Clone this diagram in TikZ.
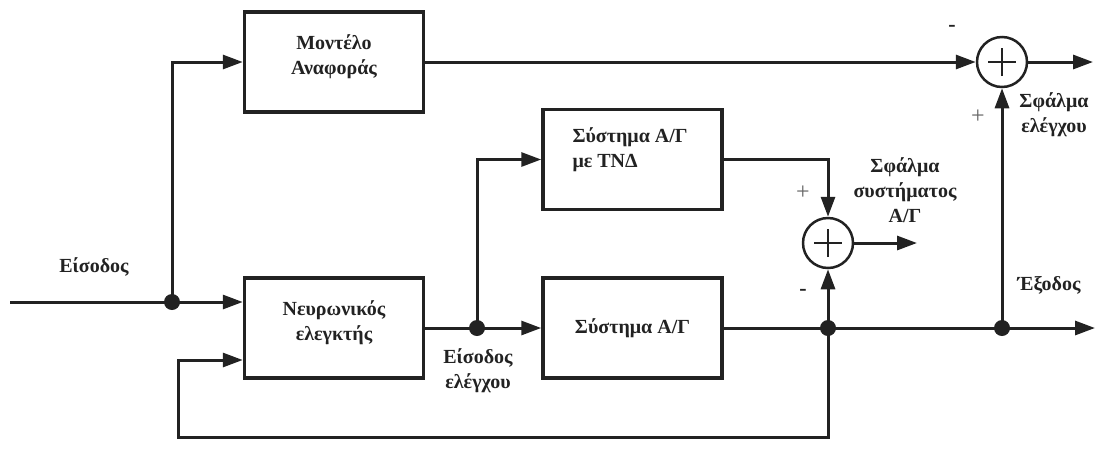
\documentclass[tikz,border=0pt]{standalone}
\usepackage{fontspec}
\setmainfont{Liberation Serif}
\usetikzlibrary{arrows.meta}
\definecolor{ink}{HTML}{222222}
\begin{document}
\begin{tikzpicture}[x=1pt,y=-1pt,
  color=ink,
  line width=3pt,
  blk/.style={draw=ink, line width=3.5pt, minimum width=179pt, minimum height=100pt, inner sep=0pt},
  sumnode/.style={draw=ink, circle, line width=2.5pt, minimum size=50pt, inner sep=0pt,
    path picture={\draw[ink, line width=2.2pt]
      ([xshift=-14pt]path picture bounding box.center) -- ([xshift=14pt]path picture bounding box.center)
      ([yshift=-14pt]path picture bounding box.center) -- ([yshift=14pt]path picture bounding box.center);}},
  dot/.style={circle, fill=ink, draw=none, inner sep=0pt, minimum size=16pt},
  lbl/.style={text=ink, font=\fontsize{20}{25}\selectfont\bfseries, align=center, inner sep=0pt},
  plussign/.style={text=ink!70, font=\fontsize{24}{24}\selectfont, inner sep=0pt},
  minussign/.style={text=ink, font=\fontsize{22}{22}\selectfont\bfseries, inner sep=0pt},
  arr/.style={-{Triangle[length=20pt,width=14pt]}}
]
\useasboundingbox (0,0) rectangle (1102,459);

% blocks
\node[blk] (ref) at (334,62) {};
\node[blk] (nc)  at (334,328) {};
\node[blk] (tnd) at (632.5,159.5) {};
\node[blk] (sys) at (632.5,328) {};

% block texts
\node[lbl] (refT) at (334,57) {Μοντέλο\\Αναφοράς};
\node[lbl] (ncT)  at (334,323) {Νευρωνικός\\ελεγκτής};
\node[lbl, align=left, anchor=west] (tndT) at (571,149.5) {Σύστημα Α/Γ\\με ΤΝΔ};
\node[lbl] (sysT) at (632.5,328) {Σύστημα Α/Γ};

% summing junctions
\node[sumnode] (s1) at (1002,62) {};
\node[sumnode] (s2) at (828,243) {};

% branch points
\node[dot] (j1) at (172,302) {};
\node[dot] (j2) at (477,328) {};
\node[dot] (j3) at (828,328) {};
\node[dot] (j4) at (1002,328) {};

% free ends
\coordinate (in)   at (10,302);
\coordinate (out)  at (1095,328);
\coordinate (eout) at (1093,62);
\coordinate (sout) at (917,243);
\coordinate (fbR)  at (828,437);
\coordinate (fbL)  at (178,437);

% signal paths
\draw (in) -- (j1.center);
\draw[arr] (j1.center) -- ([yshift=26pt]nc.west);
\draw[arr] (j1.center) |- (ref.west);
\draw[arr] (ref.east) -- (s1.west);
\draw[arr] (s1.east) -- (eout);

\draw (nc.east) -- (j2.center);
\draw[arr] (j2.center) -- (sys.west);
\draw[arr] (j2.center) |- (tnd.west);
\draw[arr] (tnd.east) -| (s2.north);

\draw (sys.east) -- (j3.center) -- (j4.center);
\draw[arr] (j4.center) -- (out);
\draw[arr] (j3.center) -- (s2.south);
\draw[arr] (j4.center) -- (s1.south);
\draw[arr] (s2.east) -- (sout);

% feedback loop
\draw[arr] (j3.center) -- (fbR) -- (fbL) |- ([yshift=-32pt]nc.west);

% signal labels
\node[lbl] (lin)  at (94,267) {Είσοδος};
\node[lbl] (lcin) at (478,371) {Είσοδος\\ελέγχου};
\node[lbl] (lse)  at (905,190) {Σφάλμα\\συστήματος\\Α/Γ};
\node[lbl] (lce)  at (1054,115) {Σφάλμα\\ελέγχου};
\node[lbl] (lout) at (1049,285) {Έξοδος};

% signs
\node[plussign]  (p2) at (803,193) {+};
\node[minussign] (m2) at (803,292) {-};
\node[minussign] (m1) at (952,28) {-};
\node[plussign]  (p1) at (978,117) {+};
\end{tikzpicture}
\end{document}
